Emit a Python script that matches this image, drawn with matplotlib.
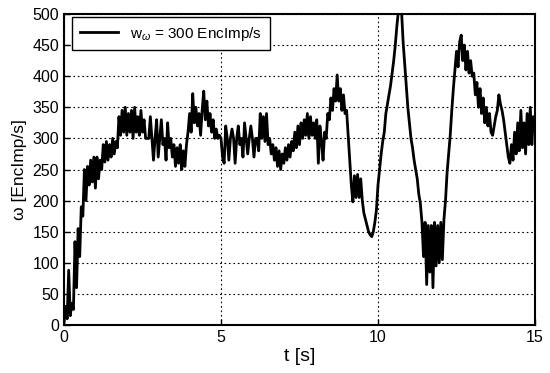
import numpy as np
import matplotlib
matplotlib.use("Agg")
import matplotlib.pyplot as plt

plt.rcParams['font.family'] = ['Liberation Sans', 'DejaVu Sans']
plt.rcParams['mathtext.fontset'] = 'custom'
plt.rcParams['mathtext.rm'] = 'Liberation Sans'
plt.rcParams['mathtext.it'] = 'Liberation Sans:italic'

dt = 0.05
w_s0 = [5, 30, 10, 88, 15, 35, 25, 134, 60, 155, 110, 190, 175, 250, 200, 255, 225, 265, 230, 270]
w_s1 = [220, 270, 235, 265, 250, 290, 262, 295, 265, 290, 270, 300, 275, 295, 285, 335, 305, 345, 310, 350]
w_s2 = [305, 340, 310, 345, 300, 350, 310, 335, 305, 345, 310, 330, 300, 300, 300, 335, 300, 265, 300, 330]
w_s3 = [270, 300, 330, 290, 300, 265, 325, 285, 300, 270, 290, 255, 285, 260, 290, 250, 280, 255, 290, 310]
w_s4 = [340, 310, 372, 325, 350, 320, 340, 305, 345, 376, 330, 360, 320, 340, 310, 330, 300, 315, 300, 305]
w_s5 = [300, 270, 260, 320, 300, 265, 300, 315, 300, 260, 300, 320, 290, 300, 270, 325, 300, 275, 300, 320]
w_s6 = [300, 270, 300, 300, 280, 340, 300, 335, 295, 340, 290, 300, 275, 290, 265, 285, 255, 280, 250, 275]
w_s7 = [260, 285, 265, 290, 270, 295, 280, 310, 285, 320, 290, 325, 300, 330, 305, 340, 300, 335, 305, 325]
w_s8 = [300, 330, 260, 320, 295, 265, 310, 300, 340, 330, 365, 345, 380, 360, 402, 360, 380, 345, 370, 340]
w_s9 = [345, 305, 265, 225, 198, 240, 205, 242, 205, 235, 200, 180, 170, 160, 150, 145, 142, 150, 165, 185]
w_s10 = [225, 250, 275, 295, 310, 340, 355, 370, 385, 405, 425, 450, 480, 505, 510, 505, 455, 420, 385, 350]
w_s11 = [325, 300, 285, 265, 250, 235, 210, 195, 165, 110, 165, 65, 160, 85, 160, 60, 165, 95, 160, 100]
w_s12 = [165, 105, 170, 200, 245, 275, 305, 345, 380, 410, 440, 415, 455, 466, 425, 450, 410, 440, 405, 425]
w_s13 = [400, 405, 370, 390, 350, 380, 340, 365, 325, 350, 320, 340, 310, 305, 320, 335, 345, 370, 355, 345]
w_s14 = [330, 310, 290, 270, 260, 290, 265, 310, 275, 325, 280, 345, 285, 325, 275, 340, 290, 350, 290, 335]
w_end = [320]

omega = np.array(w_s0 + w_s1 + w_s2 + w_s3 + w_s4 + w_s5 + w_s6 + w_s7 + w_s8 +
                 w_s9 + w_s10 + w_s11 + w_s12 + w_s13 + w_s14 + w_end, dtype=float)
t = np.arange(len(omega)) * dt

xticks = [0, 5, 10, 15]
yticks = [0, 50, 100, 150, 200, 250, 300, 350, 400, 450, 500]

fig = plt.figure(figsize=(5.5, 3.73), dpi=100)
ax = fig.add_axes([64/550, 48/373, 471/550, 311/373])
ax.plot(t, omega, color='black', lw=2.0, label=r'w$_{\omega}$ = 300 EncImp/s')
ax.set_xlim(0, 15)
ax.set_ylim(0, 500)
ax.set_xticks(xticks)
ax.set_yticks(yticks)
ax.tick_params(direction='in', labelsize=11.5, length=4, width=1)
ax.grid(True, color='black', linestyle=(0, (1.5, 2.5)), linewidth=0.8)
for s in ax.spines.values():
    s.set_linewidth(1.5)
ax.set_xlabel('t [s]', fontsize=14, labelpad=2)
ax.set_ylabel('ω [EncImp/s]', fontsize=12.5, labelpad=4)
leg = ax.legend(loc='upper left', bbox_to_anchor=(0.017, 0.99), borderaxespad=0,
                fontsize=11, handlelength=2.5, fancybox=False,
                framealpha=1, edgecolor='black', borderpad=0.5)
leg.get_frame().set_linewidth(1.0)
fig.savefig('out.png', dpi=100)
